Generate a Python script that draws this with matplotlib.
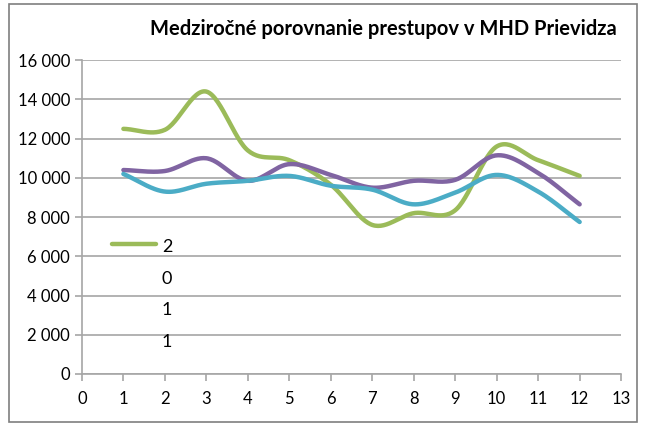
import numpy as np
import matplotlib.pyplot as plt
from matplotlib.lines import Line2D
from matplotlib.patches import Rectangle

plt.rcParams['font.family'] = ['Liberation Sans Narrow', 'Lato', 'DejaVu Sans']

months = [1, 2, 3, 4, 5, 6, 7, 8, 9, 10, 11, 12]
green_vals = [12500, 12450, 14400, 11400, 10900, 9650, 7600, 8200, 8350, 11600, 10900, 10100]
purple_vals = [10400, 10350, 11000, 9850, 10700, 10150, 9500, 9850, 9900, 11150, 10250, 8650]
cyan_vals = [10200, 9300, 9700, 9850, 10100, 9600, 9400, 8650, 9250, 10150, 9300, 7750]
yticks = [0, 2000, 4000, 6000, 8000, 10000, 12000, 14000, 16000]
ytick_labels = ["0", "2 000", "4 000", "6 000", "8 000", "10 000", "12 000", "14 000", "16 000"]
title = "Medziročné porovnanie prestupov v MHD Prievidza"
legend_label = "2\n0\n1\n1"


def smooth(x, y, n=30):
    # catmull-rom like Excel smoothed lines
    x = np.asarray(x, float)
    y = np.asarray(y, float)
    px = np.concatenate([[2 * x[0] - x[1]], x, [2 * x[-1] - x[-2]]])
    py = np.concatenate([[2 * y[0] - y[1]], y, [2 * y[-1] - y[-2]]])
    xs, ys = [], []
    t = np.linspace(0, 1, n)
    for i in range(1, len(px) - 2):
        p0, p1, p2, p3 = py[i - 1], py[i], py[i + 1], py[i + 2]
        q0, q1, q2, q3 = px[i - 1], px[i], px[i + 1], px[i + 2]
        for a, b, c, d, out in ((p0, p1, p2, p3, ys), (q0, q1, q2, q3, xs)):
            out.extend(0.5 * (2 * b + (-a + c) * t + (2 * a - 5 * b + 4 * c - d) * t ** 2
                              + (-a + 3 * b - 3 * c + d) * t ** 3))
    return np.array(xs), np.array(ys)


fig = plt.figure(figsize=(6.45, 4.24), dpi=100)
fig.patches.append(Rectangle((0.014, 0.005), 0.974, 0.985, transform=fig.transFigure,
                             fill=False, edgecolor='#7f7f7f', lw=1.2))
ax = fig.add_axes([0.127, 0.118, 0.836, 0.740])

for vals, col in ((green_vals, '#9BBB59'), (purple_vals, '#8064A2'), (cyan_vals, '#4BACC6')):
    sx, sy = smooth(months, vals)
    ax.plot(sx, sy, color=col, lw=3.2, solid_capstyle='round', zorder=3)

ax.set_xlim(0, 13)
ax.set_ylim(0, 16000)
ax.set_xticks(range(0, 14))
ax.set_yticks(yticks)
ax.set_yticklabels(ytick_labels)
ax.yaxis.grid(True, color='#a6a6a6', lw=1.2)
ax.set_axisbelow(True)
for s in ('top', 'right'):
    ax.spines[s].set_visible(False)
for s in ('left', 'bottom'):
    ax.spines[s].set_color('#a6a6a6')
    ax.spines[s].set_linewidth(1.2)
ax.tick_params(axis='both', colors='#a6a6a6', labelcolor='black', labelsize=12, length=5, width=1.2)
ax.tick_params(axis='x', pad=7)

fig.text(0.595, 0.932, title, ha='center', va='center', fontsize=14.5, fontweight='bold')

# legend (truncated label, one character per line)
ax.add_line(Line2D([0.055, 0.137], [0.415, 0.415], transform=ax.transAxes,
                   color='#9BBB59', lw=3.2, solid_capstyle='round'))
ax.text(0.148, 0.430, legend_label, transform=ax.transAxes, ha='left', va='top',
        fontsize=13, linespacing=2.2)

fig.savefig('out.png', dpi=100)
